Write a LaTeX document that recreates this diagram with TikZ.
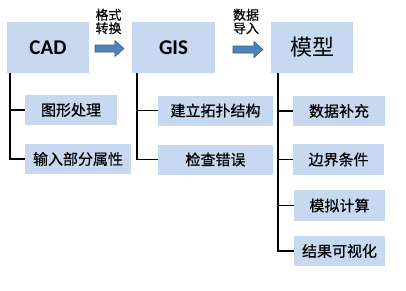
\documentclass[tikz,border=0pt]{standalone}
\usepackage{fontspec}
\setmainfont{Carlito}
\newfontfamily\cjk{Noto Sans CJK SC}
\newfontfamily\cjkb[FakeBold=0.6]{Noto Sans CJK SC}
\definecolor{boxfill}{HTML}{C6D9F1}
\definecolor{arrfill}{HTML}{4F81BD}
\definecolor{arrdraw}{HTML}{385D8A}
\begin{document}
\begin{tikzpicture}[x=1pt,y=-1pt,
  mainbox/.style={fill=boxfill,minimum width=82pt,minimum height=51pt,inner sep=0pt},
  subbox/.style={fill=boxfill,minimum height=30pt,inner sep=0pt,font=\cjkb\fontsize{15}{15}\selectfont},
  link/.style={draw=black,line width=1.1pt},
  fatarrow/.style={fill=arrfill,draw=arrdraw,line width=0.6pt},
  lab/.style={font=\cjkb\fontsize{13}{13.5}\selectfont,align=center,inner sep=0pt}]
\useasboundingbox (0,0) rectangle (406,290);
% main boxes
\node[mainbox,font=\bfseries\fontsize{21}{21}\selectfont] (cad) at (48,47.5) {CAD};
\node[mainbox,minimum width=83pt,font=\bfseries\fontsize{21}{21}\selectfont] (gis) at (173.5,47.5) {GIS};
\node[mainbox,font=\cjk\fontsize{22}{22}\selectfont] (model) at (312,47.5) {模型};
% arrows
\draw[fatarrow] (95,45) -- (115,45) -- (115,40.5) -- (124,48.5) -- (115,56.5) -- (115,52) -- (95,52) -- cycle;
\draw[fatarrow] (233,46) -- (254,46) -- (254,41.5) -- (263,49.5) -- (254,57.5) -- (254,53) -- (233,53) -- cycle;
\node[lab] (l1) at (108.5,21.5) {格式\\转换};
\node[lab] (l2) at (246,21.5) {数据\\导入};
% CAD sub
\node[subbox,minimum width=92pt] (c1) at (71,110) {图形处理};
\node[subbox,minimum width=106pt] (c2) at (78,159) {输入部分属性};
\coordinate (cv) at (10,73);
\draw[link] (cv) |- (c1.west);
\draw[link] (cv) |- (c2.west);
% GIS sub
\node[subbox,minimum width=115pt] (g1) at (215.5,110.5) {建立拓扑结构};
\node[subbox,minimum width=115pt] (g2) at (215.5,159.5) {检查错误};
\coordinate (gv) at (137,73);
\draw[link] (gv) |- (g1.west);
\draw[link] (gv) |- (g2.west);
% model sub
\node[subbox,minimum width=92pt] (m1) at (339,111) {数据补充};
\node[subbox,minimum width=91pt,minimum height=31pt] (m2) at (338.5,159.5) {边界条件};
\node[subbox,minimum width=91pt,minimum height=31pt] (m3) at (339.5,205.5) {模拟计算};
\node[subbox,minimum width=91pt] (m4) at (339.5,251) {结果可视化};
\coordinate (mv) at (278,73);
\draw[link] (mv) |- (m1.west);
\draw[link] (mv) |- (m2.west);
\draw[link] (mv) |- (m3.west);
\draw[link] (mv) |- (m4.west);
\end{tikzpicture}
\end{document}
